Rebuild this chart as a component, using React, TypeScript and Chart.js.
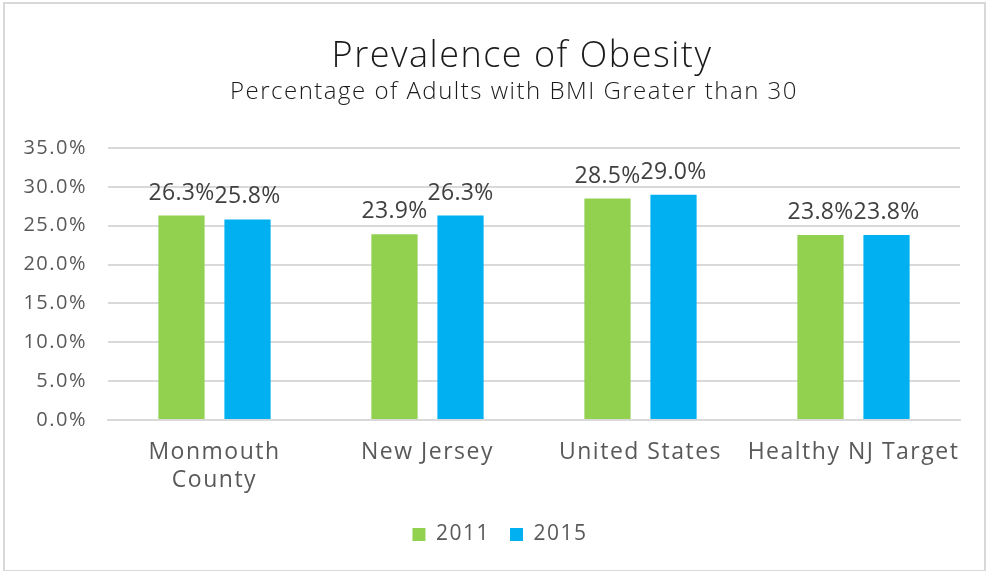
import React, { useEffect, useRef } from "react";
import { Chart, registerables } from "chart.js";

Chart.register(...registerables);

const categories: (string | string[])[] = [["Monmouth", "County"], "New Jersey", "United States", "Healthy NJ Target"];
const series2011 = [26.3, 23.9, 28.5, 23.8];
const series2015 = [25.8, 26.3, 29.0, 23.8];
const seriesNames = ["2011", "2015"];
const yMin = 0;
const yMax = 35;
const yStep = 5;
const titleText = "Prevalence of Obesity";
const subtitleText = "Percentage of Adults with BMI Greater than 30";

const FONT = "'Open Sans', 'DejaVu Sans', sans-serif";
const SPACING = "1.5px";

const spacingPlugin = {
  id: "letterSpacing",
  beforeLayout(chart: any) {
    (chart.ctx as any).letterSpacing = SPACING;
  },
  afterLayout(chart: any) {
    // shift the legend box so it is centred like the reference
    if (chart.legend) {
      chart.legend.left = 40;
    }
  },
  beforeDraw(chart: any) {
    (chart.ctx as any).letterSpacing = SPACING;
  },
};

const titlePlugin = {
  id: "titles",
  afterDraw(chart: any) {
    const ctx = chart.ctx;
    ctx.save();
    (ctx as any).letterSpacing = SPACING;
    ctx.textAlign = "center";
    ctx.textBaseline = "alphabetic";
    ctx.fillStyle = "#1a1a1a";
    ctx.font = `300 36px ${FONT}`;
    ctx.fillText(titleText, 522, 67);
    ctx.font = `300 24px ${FONT}`;
    ctx.fillText(subtitleText, 514, 99);
    ctx.restore();
  },
};

const dataLabelPlugin = {
  id: "dataLabels",
  afterDatasetsDraw(chart: any) {
    const ctx = chart.ctx;
    ctx.save();
    (ctx as any).letterSpacing = "0.3px";
    ctx.font = `23px ${FONT}`;
    ctx.fillStyle = "#404040";
    ctx.textAlign = "center";
    ctx.textBaseline = "alphabetic";
    chart.data.datasets.forEach((ds: any, i: number) => {
      const meta = chart.getDatasetMeta(i);
      meta.data.forEach((el: any, j: number) => {
        ctx.fillText(Number(ds.data[j]).toFixed(1) + "%", el.x, el.y - 16);
      });
    });
    ctx.restore();
  },
};

export default function App() {
  const ref = useRef<HTMLCanvasElement>(null);
  useEffect(() => {
    if (!ref.current) return;
    const chart = new Chart(ref.current, {
      type: "bar",
      data: {
        labels: categories,
        datasets: [
          { label: seriesNames[0], data: series2011, backgroundColor: "#92D050", barPercentage: 0.7, categoryPercentage: 0.62 },
          { label: seriesNames[1], data: series2015, backgroundColor: "#00B0F0", barPercentage: 0.7, categoryPercentage: 0.62 },
        ],
      },
      options: {
        responsive: false,
        animation: false,
        devicePixelRatio: 1,
        layout: { padding: { left: 0, right: 27, top: 148, bottom: 16 } },
        plugins: {
          title: { display: false },
          legend: {
            position: "bottom",
            labels: {
              color: "#595959",
              font: { family: FONT, size: 21 },
              boxWidth: 13,
              boxHeight: 13,
              padding: 20,
            },
          },
          tooltip: { enabled: false },
        },
        scales: {
          x: {
            grid: { display: false, drawTicks: false },
            border: { color: "#d9d9d9", width: 2 },
            ticks: { color: "#595959", font: { family: FONT, size: 23 }, padding: 19, maxRotation: 0, autoSkip: false },
            afterFit: (scale: any) => { scale.height = 84; },
          },
          y: {
            min: yMin,
            max: yMax,
            afterFit: (scale: any) => { scale.width = 108; },
            grid: { color: "#d9d9d9", lineWidth: 2, drawTicks: false },
            border: { display: false },
            ticks: {
              stepSize: yStep,
              color: "#595959",
              font: { family: FONT, size: 20 },
              padding: 21,
              callback: (v: any) => Number(v).toFixed(1) + "%",
            },
          },
        },
      },
      plugins: [spacingPlugin, dataLabelPlugin, titlePlugin],
    });
    return () => chart.destroy();
  }, []);
  return (
    <div style={{ position: "absolute", left: 0, top: 0, width: 987, height: 571, background: "#fff" }}>
      <canvas ref={ref} width={987} height={571} style={{ position: "absolute", left: 0, top: 0 }} />
      <div style={{ position: "absolute", left: 3, top: 2, width: 979, height: 566, border: "2px solid #d9d9d9", pointerEvents: "none" }} />
    </div>
  );
}
